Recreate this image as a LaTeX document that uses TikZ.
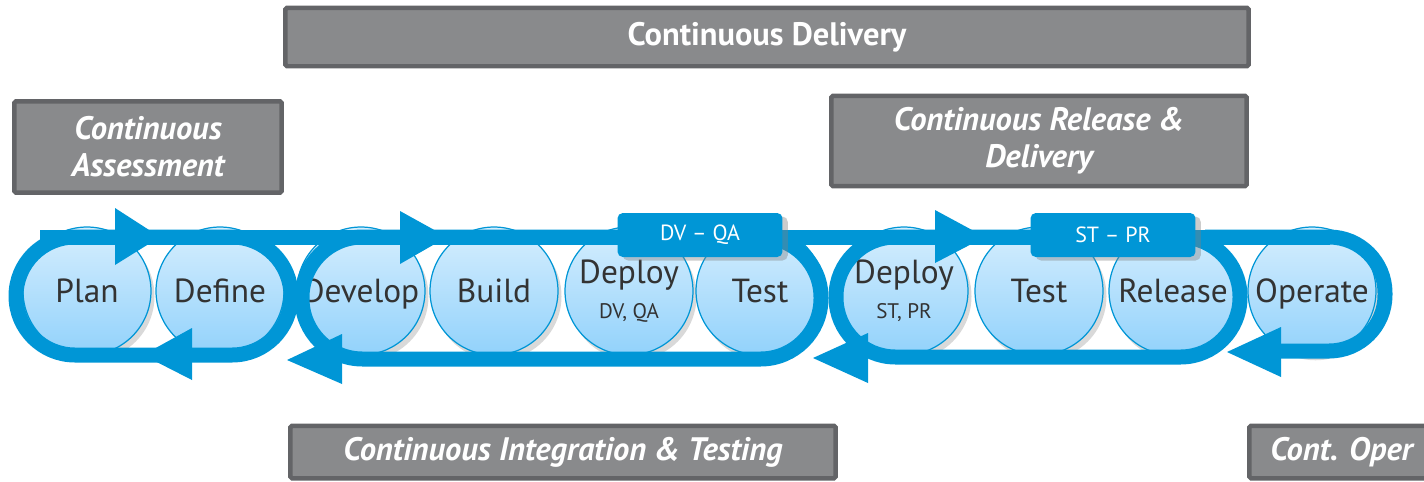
\documentclass[tikz,border=0pt]{standalone}
\usepackage{fontspec}
\setmainfont{PT Sans}
\usetikzlibrary{shadows}
\definecolor{hpblue}{HTML}{0096D6}
\definecolor{boxgray}{HTML}{898A8C}
\definecolor{boxedge}{HTML}{636467}
\definecolor{cirtop}{HTML}{D6EEFE}
\definecolor{cirbot}{HTML}{92D2FB}
\definecolor{labelgray}{HTML}{333333}
\frenchspacing
\begin{document}
\begin{tikzpicture}[
   x=0.02cm, y=-0.02cm,
   stage/.style={circle, draw=hpblue, line width=0.7pt, top color=cirtop, bottom color=cirbot,
      minimum size=2.56cm, inner sep=0pt, text=labelgray, align=center,
      font=\fontsize{19}{21}\selectfont, text height=13.6pt, text depth=0pt,
      drop shadow={opacity=0.3, shadow xshift=2pt, shadow yshift=-3pt}},
   twoline/.style={text height=30.8pt, text depth=0pt},
   band/.style={draw=hpblue, line width=0.3cm},
   head/.style={fill=hpblue},
   env/.style={rectangle, rounded corners=3pt, fill=hpblue, text=white,
      minimum width=3.3cm, minimum height=0.88cm, font=\fontsize{12.5}{14}\selectfont,
      drop shadow={opacity=0.4, shadow xshift=3pt, shadow yshift=-2pt}},
   phase/.style={rectangle, fill=boxgray, draw=boxedge, line width=0.09cm, rounded corners=1pt,
      text=white, align=center, font=\fontsize{18.5}{21}\selectfont\bfseries\itshape}
]
\useasboundingbox (0,0) rectangle (1424,481);

% Stages
\node[stage] (plan) at (87,291) {Plan};
\node[stage] (define) at (220,291) {Define};
\node[stage] (develop) at (361,291) {Develop};
\node[stage] (build) at (494,291) {Build};
\node[stage, twoline] (deploydv) at (629,291) {Deploy\\[-1.5pt]{\fontsize{12}{14}\selectfont DV, QA}};
\node[stage] (testqa) at (760,291) {Test};
\node[stage, twoline] (deployst) at (904,291) {Deploy\\[-1.5pt]{\fontsize{12}{14}\selectfont ST, PR}};
\node[stage] (testpr) at (1039,291) {Test};
\node[stage] (release) at (1173,291) {Release};
\node[stage] (operate) at (1312,291) {Operate};

% Loops
\draw[band] (40,237) -- (1330,237);
\draw[band, rounded corners=1.18cm] (16,237) rectangle (291,355);
\draw[band, rounded corners=1.21cm] (302,237) rectangle (821,359);
\draw[band, rounded corners=1.19cm] (836,237) rectangle (1240,357);
\draw[band, rounded corners=1.12cm] (1205,237) -- (1385,237) -- (1385,351) -- (1255,351);

% Heads
\fill[head] (115,208) -- (160,237) -- (115,265) -- cycle;
\fill[head] (400,211) -- (447,237) -- (400,264) -- cycle;
\fill[head] (935,210) -- (985,237) -- (935,263) -- cycle;
\fill[head] (192,328) -- (143,355) -- (192,380) -- cycle;
\fill[head] (342,334) -- (287,360) -- (342,384) -- cycle;
\fill[head] (868,333) -- (813,358) -- (868,383) -- cycle;
\fill[head] (1281,327) -- (1227,352) -- (1281,377) -- cycle;

% Environments
\node[env] (dvqa) at (700,235) {DV -- QA};
\node[env] (stpr) at (1113,235) {ST -- PR};

% Phases
\node[phase, minimum width=19.27cm, minimum height=1.17cm] (cd) at (767,37) {\upshape Continuous Delivery};
\node[phase, minimum width=5.35cm, minimum height=1.83cm] (ca) at (148,147) {Continuous\\Assessment};
\node[phase, minimum width=8.31cm, minimum height=1.81cm] (crd) at (1039,141) {Continuous Release \&\\Delivery};
\node[phase, minimum width=10.91cm, minimum height=1.05cm] (cit) at (563,452) {Continuous Integration \& Testing};
\node[phase, minimum height=1.05cm, anchor=west, text width=4cm, inner xsep=0.42cm, align=left] (co) at (1247,452) {Cont. Oper};

\end{tikzpicture}
\end{document}
